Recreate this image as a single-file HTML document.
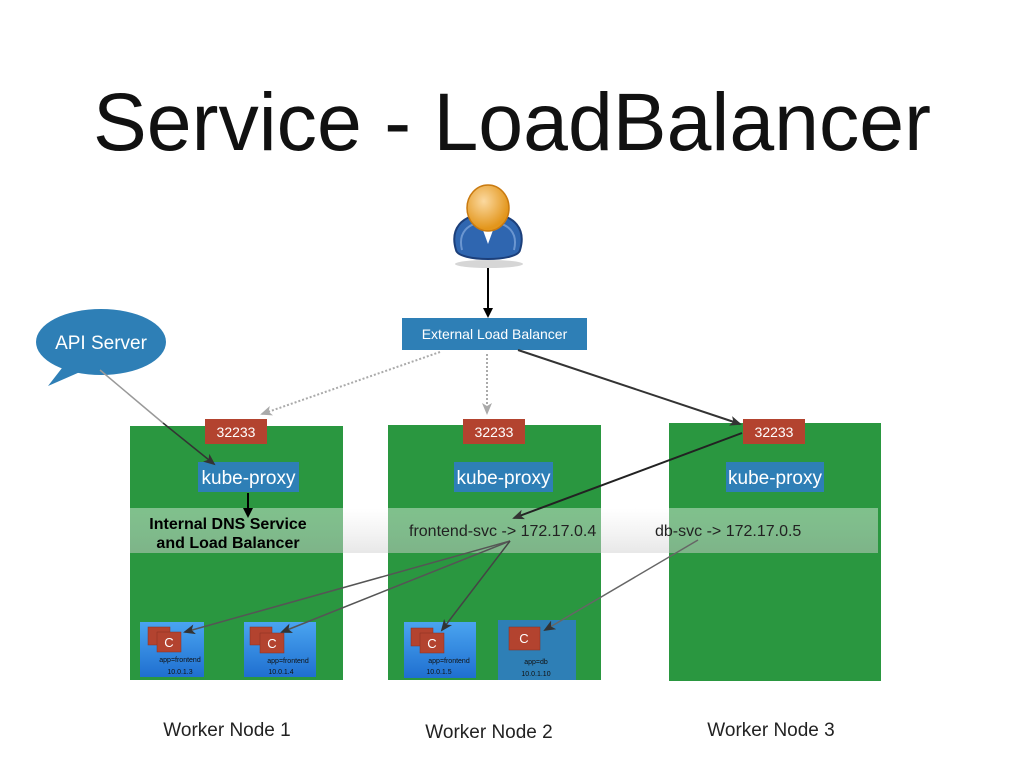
<!DOCTYPE html>
<html><head><meta charset="utf-8"><style>
html,body{margin:0;padding:0;background:#fff;width:1024px;height:768px;overflow:hidden}
svg{display:block}
text{font-family:"Liberation Sans",sans-serif}
</style></head><body>
<svg width="1024" height="768" viewBox="0 0 1024 768" xmlns="http://www.w3.org/2000/svg">
<defs>
<marker id="ab" markerWidth="10" markerHeight="10" refX="8" refY="5" orient="auto" markerUnits="userSpaceOnUse"><path d="M0,0 L10,5 L0,10 Z" fill="#000"/></marker>
<marker id="ad" markerWidth="12" markerHeight="10" refX="10" refY="5" orient="auto" markerUnits="userSpaceOnUse"><path d="M0,0 L12,5 L0,10 L3,5 Z" fill="#333"/></marker>
<marker id="al" markerWidth="12" markerHeight="10" refX="10" refY="5" orient="auto" markerUnits="userSpaceOnUse"><path d="M0,0 L12,5 L0,10 L3,5 Z" fill="#aaa"/></marker>
<linearGradient id="pod" x1="0" y1="0" x2="0" y2="1"><stop offset="0" stop-color="#4aa4f0"/><stop offset="1" stop-color="#1f6fd0"/></linearGradient>
<radialGradient id="head" cx="0.4" cy="0.35" r="0.6"><stop offset="0" stop-color="#fbd9a0"/><stop offset="1" stop-color="#e3961c"/></radialGradient>
<linearGradient id="band" x1="0" y1="0" x2="0" y2="1"><stop offset="0" stop-color="#fff" stop-opacity="0.4"/><stop offset="1" stop-color="#d0d0d0" stop-opacity="0.5"/></linearGradient>
</defs>

<text x="512" y="150" font-size="82" text-anchor="middle" textLength="838" lengthAdjust="spacingAndGlyphs" fill="#111">Service - LoadBalancer</text>

<!-- person -->
<ellipse cx="489" cy="264" rx="34" ry="4" fill="#999" opacity="0.4"/>
<path d="M456,250 C450,230 460,214 488,214 C516,214 526,230 520,250 C518,262 458,262 456,250 Z" fill="#2f66b0" stroke="#1c3f7a" stroke-width="2"/>
<path d="M462,250 C458,234 466,222 488,222 C510,222 518,234 514,250" fill="none" stroke="#6b96d0" stroke-width="2"/>
<path d="M480,222 L488,244 L496,222 Z" fill="#fff"/>
<ellipse cx="488" cy="208" rx="21" ry="23" fill="url(#head)" stroke="#c97a10" stroke-width="1.5"/>
<line x1="488" y1="268" x2="488" y2="316" stroke="#000" stroke-width="2" marker-end="url(#ab)"/>

<!-- External LB -->
<rect x="402" y="318" width="185" height="32" fill="#2e7fb6"/>
<text x="494.5" y="339" font-size="14" fill="#fff" text-anchor="middle">External Load Balancer</text>

<!-- API server -->
<path d="M48,386 L62,368 L80,372 Z" fill="#2e7fb6"/>
<ellipse cx="101" cy="342" rx="65" ry="33" fill="#2e7fb6"/>
<text x="101" y="349" font-size="19" fill="#fff" text-anchor="middle">API Server</text>

<!-- nodes -->
<rect x="130" y="426" width="213" height="254" fill="#2a9740"/>
<rect x="388" y="425" width="213" height="255" fill="#2a9740"/>
<rect x="669" y="423" width="212" height="258" fill="#2a9740"/>

<g font-size="14" fill="#fff" text-anchor="middle">
<rect x="205" y="419" width="62" height="25" fill="#b3432f"/><text x="236" y="437">32233</text>
<rect x="463" y="419" width="62" height="25" fill="#b3432f"/><text x="494" y="437">32233</text>
<rect x="743" y="419" width="62" height="25" fill="#b3432f"/><text x="774" y="437">32233</text>
</g>

<g font-size="19" fill="#fff" text-anchor="middle">
<rect x="198" y="462" width="101" height="30" fill="#2e7fb6"/><text x="248.5" y="484">kube-proxy</text>
<rect x="454" y="462" width="99" height="30" fill="#2e7fb6"/><text x="503.5" y="484">kube-proxy</text>
<rect x="726" y="462" width="98" height="30" fill="#2e7fb6"/><text x="775" y="484">kube-proxy</text>
</g>

<rect x="130" y="508" width="748" height="45" fill="url(#band)"/>
<text x="228" y="529" font-size="16" font-weight="bold" text-anchor="middle" fill="#000">Internal DNS Service</text>
<text x="228" y="548" font-size="16" font-weight="bold" text-anchor="middle" fill="#000">and Load Balancer</text>
<text x="409" y="536" font-size="16" fill="#222">frontend-svc -&gt; 172.17.0.4</text>
<text x="655" y="536" font-size="16" fill="#222">db-svc -&gt; 172.17.0.5</text>

<g>
<rect x="140" y="622" width="64" height="55" fill="url(#pod)"/>
<rect x="244" y="622" width="72" height="55" fill="url(#pod)"/>
<rect x="404" y="622" width="72" height="56" fill="url(#pod)"/>
<rect x="498" y="620" width="78" height="60" fill="#2e7fb6"/>
</g>
<g fill="#b3432f" stroke="#8a2f20" stroke-width="0.5">
<rect x="148" y="627" width="22" height="18"/><rect x="157" y="632" width="24" height="20"/>
<rect x="250" y="627" width="22" height="18"/><rect x="260" y="633" width="24" height="20"/>
<rect x="411" y="628" width="22" height="18"/><rect x="420" y="633" width="24" height="20"/>
<rect x="509" y="627" width="31" height="23"/>
</g>
<g font-size="13" fill="#fff" text-anchor="middle">
<text x="169" y="647">C</text><text x="272" y="648">C</text><text x="432" y="648">C</text><text x="524" y="643">C</text>
</g>
<g font-size="7" fill="#111" text-anchor="middle">
<text x="180" y="662">app=frontend</text><text x="180" y="674">10.0.1.3</text>
<text x="288" y="663">app=frontend</text><text x="281" y="674">10.0.1.4</text>
<text x="449" y="663">app=frontend</text><text x="439" y="674">10.0.1.5</text>
<text x="536" y="664">app=db</text><text x="536" y="676">10.0.1.10</text>
</g>

<line x1="440" y1="352" x2="262" y2="414" stroke="#aaa" stroke-width="2" stroke-dasharray="2,2" marker-end="url(#al)"/>
<line x1="487" y1="354" x2="487" y2="413" stroke="#aaa" stroke-width="2" stroke-dasharray="2,2" marker-end="url(#al)"/>
<line x1="518" y1="350" x2="740" y2="424" stroke="#333" stroke-width="2" marker-end="url(#ad)"/>
<line x1="742" y1="433" x2="514" y2="518" stroke="#222" stroke-width="2" marker-end="url(#ad)"/>
<line x1="100" y1="370" x2="163" y2="423" stroke="#999" stroke-width="1.5"/>
<line x1="163" y1="423" x2="214" y2="464" stroke="#333" stroke-width="1.5" marker-end="url(#ad)"/>
<line x1="248" y1="493" x2="248" y2="516" stroke="#000" stroke-width="2" marker-end="url(#ab)"/>
<line x1="510" y1="541" x2="185" y2="632" stroke="#555" stroke-width="1.5" marker-end="url(#ad)"/>
<line x1="510" y1="541" x2="282" y2="632" stroke="#555" stroke-width="1.5" marker-end="url(#ad)"/>
<line x1="510" y1="541" x2="442" y2="630" stroke="#444" stroke-width="1.5" marker-end="url(#ad)"/>
<line x1="698" y1="540" x2="545" y2="630" stroke="#666" stroke-width="1.5" marker-end="url(#ad)"/>

<g font-size="19" fill="#222" text-anchor="middle">
<text x="227" y="736">Worker Node 1</text>
<text x="489" y="738">Worker Node 2</text>
<text x="771" y="736">Worker Node 3</text>
</g>
</svg>
</body></html>
